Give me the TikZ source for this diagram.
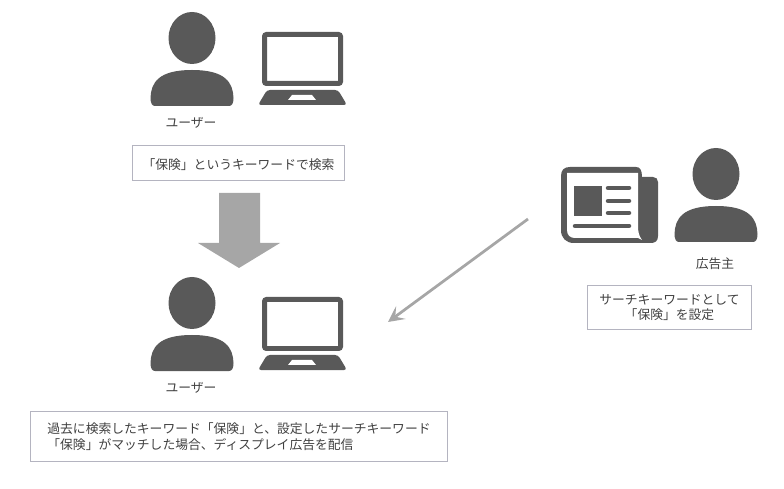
\documentclass[tikz,border=0pt]{standalone}
\usepackage{fontspec}
\setmainfont{Noto Sans CJK JP}
\usetikzlibrary{arrows.meta}
\definecolor{icongray}{HTML}{595959}
\definecolor{arrowgray}{HTML}{A6A6A6}
\definecolor{boxline}{HTML}{B4B4C0}
\definecolor{textgray}{HTML}{404040}
\tikzset{
	caption/.style={text=textgray, font=\fontsize{7.28}{9}\selectfont, inner sep=0pt},
	notebox/.style={caption, draw=boxline, line width=0.2mm, align=center, execute at begin node={\rule{0pt}{8.1pt}}},
	thinarrow/.style={draw=arrowgray, line width=0.55mm, -{Stealth[length=3.2mm, width=3.2mm, inset=1.4mm]}}
}
\def\usericon(#1,#2){
	\fill[icongray] (#1, #2) ellipse (23.5 and 26);
	\fill[icongray, shift={(#1, #2)}] (-37, 68) .. controls (-40, 68) and (-41.5, 65) .. (-41.5, 60)
		.. controls (-41, 45) and (-34, 32) .. (0, 32)
		.. controls (34, 32) and (41, 45) .. (41.5, 60)
		.. controls (41.5, 65) and (40, 68) .. (37, 68) -- cycle;
}
\def\laptopicon(#1,#2){
	\draw[icongray, line width=1mm, fill=white, rounded corners=0.4mm] (#1+2.5, #2+2.5) rectangle (#1+78.5, #2+51.5);
	\fill[icongray, rounded corners=0.6mm] (#1+5, #2+58) -- (#1+76, #2+58) -- (#1+85, #2+73) -- (#1-4, #2+73) -- cycle;
	\fill[white] (#1+30, #2+63) -- (#1+50, #2+63) -- (#1+54, #2+68) -- (#1+26, #2+68) -- cycle;
}

\begin{document}
\begin{tikzpicture}[x=0.02cm, y=-0.02cm]
	%%%%% START %%%%%
	\useasboundingbox (0, 0) rectangle (784, 489);
	
	% upper user
	\usericon(192, 38)
	\laptopicon(262, 32)
	\node[caption] (userA) at (191, 123) {ユーザー};
	\node[notebox, minimum width=4.26cm, minimum height=0.72cm] (searchbox) at (238.5, 163) {「保険」というキーワードで検索};
	
	\fill[arrowgray] (219, 193) -- (260, 193) -- (260, 243) -- (280, 243) -- (239, 268) -- (198, 243) -- (219, 243) -- cycle;
	
	% lower user
	\usericon(192, 303)
	\laptopicon(262, 297)
	\node[caption] (userB) at (191, 388) {ユーザー};
	\node[notebox, minimum width=8.36cm, minimum height=1.02cm, align=left] (matchbox) at (239, 436.5) {過去に検索したキーワード「保険」と、設定したサーチキーワード\\「保険」がマッチした場合、ディスプレイ広告を配信};
	
	% newspaper
	\fill[icongray] (570, 167) -- (636, 167) .. controls (640, 167) and (642, 170) .. (642, 177)
		-- (653, 177) .. controls (656, 177) and (658, 179) .. (658, 182)
		-- (658, 236) .. controls (658, 241) and (655, 243) .. (651, 243)
		-- (574, 243) .. controls (566, 243) and (561, 238) .. (561, 230)
		-- (561, 176) .. controls (561, 170) and (564, 167) .. (570, 167) -- cycle;
	\fill[white] (567, 173) -- (638, 173) -- (638, 226) .. controls (638, 232) and (639, 236) .. (642, 240)
		-- (638, 238) -- (575, 238) .. controls (570, 238) and (567, 235) .. (567, 230) -- cycle;
	\fill[icongray] (574, 186) rectangle (602, 216);
	\foreach \liney in {188, 201, 213}
		\draw[icongray, line width=0.9mm, line cap=round] (608, \liney) -- (629, \liney);
	\draw[icongray, line width=0.9mm, line cap=round] (575, 226) -- (629, 226);
	
	% advertiser
	\usericon(716, 174)
	\node[caption] (advertiser) at (715, 264) {広告主};
	\node[notebox, minimum width=3.3cm, minimum height=0.9cm] (keywordbox) at (669.5, 307.5) {サーチキーワードとして\\「保険」を設定};
	
	\coordinate (adstart) at (528, 219);
	\coordinate (adend) at (388, 322);
	\draw[thinarrow] (adstart) -- (adend);
	%%%%% END %%%%%
\end{tikzpicture}
\end{document}
